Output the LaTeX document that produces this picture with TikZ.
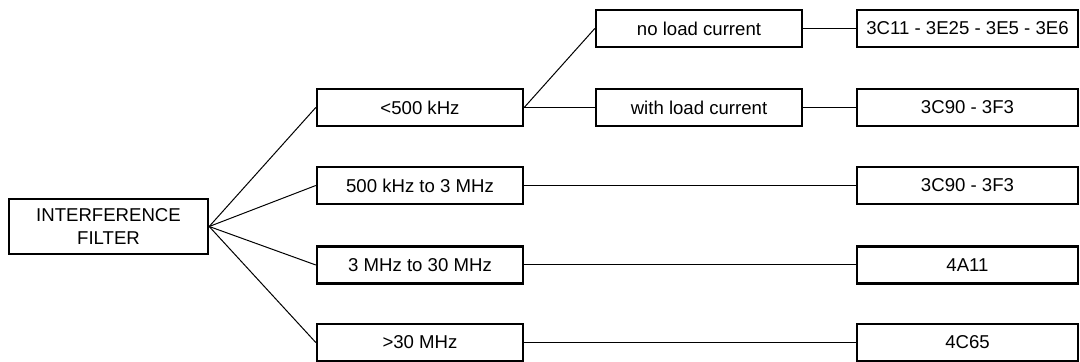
\documentclass[tikz,border=0pt]{standalone}
\usepackage{fontspec}
\setmainfont{Liberation Sans}
\begin{document}
\begin{tikzpicture}[x=0.5pt,y=-0.5pt,line width=0.5pt,
  box/.style={draw,line width=1.2pt,minimum width=103pt,minimum height=18.5pt,
    inner sep=0pt,align=center,font=\fontsize{9.3}{11.5}\selectfont},
  ferrite/.style={box,minimum width=110.5pt}]
\useasboundingbox (0,0) rectangle (1080,362);
% ---------- filter ----------
\node[box,minimum width=99.5pt,minimum height=27.5pt] (filter) at (108.5,226.5) {INTERFERENCE\\FILTER};
% ---------- frequency ranges ----------
\node[box] (lt500)  at (420,107.5) {<500 kHz};
\node[box] (r500k)  at (420,185.5) {500 kHz to 3 MHz};
\node[box] (r3M)    at (420,265)   {3 MHz to 30 MHz};
\node[box] (gt30)   at (420,342.5) {>30 MHz};
% ---------- load current ----------
\node[box] (noload)   at (699,28.5)  {no load current};
\node[box] (withload) at (699,107.5) {with load current};
% ---------- ferrite grades ----------
\node[ferrite] (matA) at (967.5,28.5)  {3C11 - 3E25 - 3E5 - 3E6};
\node[ferrite] (matB) at (967.5,107.5) {3C90 - 3F3};
\node[ferrite] (matC) at (967.5,185.5) {3C90 - 3F3};
\node[ferrite] (matD) at (967.5,265)   {4A11};
\node[ferrite] (matE) at (967.5,342.5) {4C65};
% ---------- connectors ----------
\foreach \r in {lt500,r500k,r3M,gt30}
  \draw (filter.east) -- (\r.west);
\draw (lt500.east) -- (noload.west);
\draw (lt500.east) -- (withload.west);
\draw (noload.east) -- (matA.west);
\draw (withload.east) -- (matB.west);
\draw (r500k.east) -- (matC.west);
\draw (r3M.east) -- (matD.west);
\draw (gt30.east) -- (matE.west);
\end{tikzpicture}
\end{document}
